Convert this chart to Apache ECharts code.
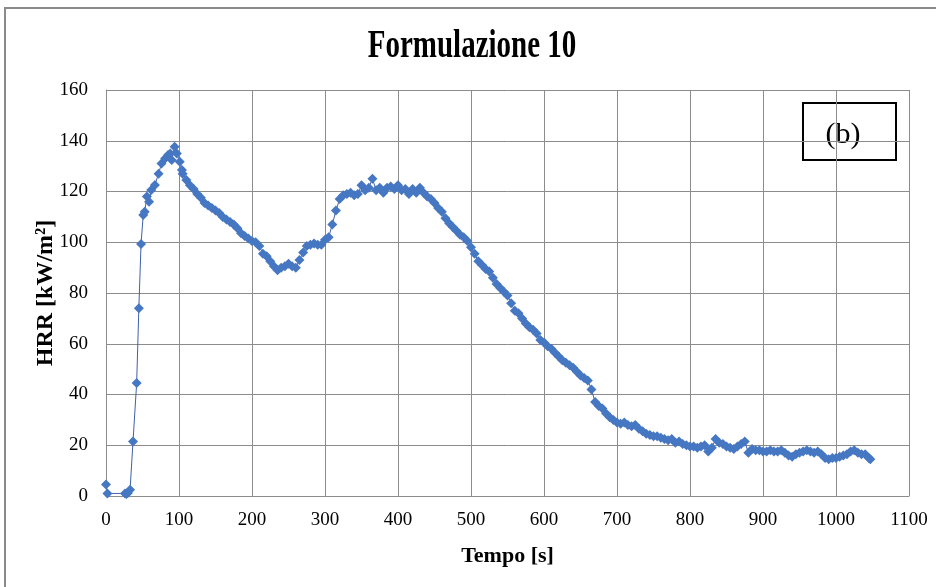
<!DOCTYPE html>
<html><head><meta charset="utf-8">
<script src="https://cdn.jsdelivr.net/npm/echarts@6/dist/echarts.min.js"></script>
<style>html,body{margin:0;padding:0;background:#fff}#c{width:936px;height:587px}</style>
</head><body><div id="c"></div>
<script>
var titleText = "Formulazione 10";
var xName = "Tempo [s]";
var yName = "HRR [kW/m²]";
var panelLabel = "(b)";
var xTicks = [0,100,200,300,400,500,600,700,800,900,1000,1100];
var yTicks = [0,20,40,60,80,100,120,140,160];
var time = [0,2,26,28,30,33,37,42,45,48,51,53,56,59,62,67,72,76,81,85,88,90,94,97,101,104,
105,110,115,120,125,130,135,140,145,150,155,160,165,170,175,180,185,190,195,200,
205,210,215,220,225,230,235,240,245,250,255,260,265,270,275,280,285,290,295,300,
305,310,315,320,325,330,335,340,345,350,355,360,365,370,375,380,385,390,395,400,
405,410,415,420,425,430,435,440,445,450,455,460,465,470,475,480,485,490,495,500,
505,510,515,520,525,530,535,540,545,550,555,560,565,570,575,580,585,590,595,600,
605,610,615,620,625,630,635,640,645,650,655,660,665,670,675,680,685,690,695,700,
705,710,715,720,725,730,735,740,745,750,755,760,765,770,775,780,785,790,795,800,
805,810,815,820,825,830,835,840,845,850,855,860,865,870,875,880,885,890,895,900,
905,910,915,920,925,930,935,940,945,950,955,960,965,970,975,980,985,990,995,1000,
1005,1010,1015,1020,1025,1030,1035,1040,1045,1047];
var hrr = [4.5,1,1,0.8,1.2,2.5,21.5,44.5,74,99.3,110.7,112,118,116,120.6,122.6,127,131,133,134.4,135,132.4,137.6,135,131.7,128.5,
127,124.5,122.5,121,119,117.5,115.5,114.5,113.5,112.5,111.5,110,109,108,107,105.5,103.5,102.5,101.5,100.5,
100,98.5,95.5,94.5,92.5,90.5,89,90,90.5,91.5,90.5,90,93,96,98.5,99,99.5,99,99,101,
102,107,112.5,117,118.5,119,119.5,118.5,119,122.5,120.5,121.5,125,120.5,121.5,119.5,121.5,122,121,122.5,
120.5,121,119,121,119.5,121.5,119.5,118,117,115.5,113.5,112,109.5,107.5,106,104.5,103,102,100.5,98,
95.5,92.5,91,89.5,88.5,86,83.5,82,80.5,79,76,73,72,70,68,66.5,65.5,64,61.5,60.5,
59,58,56.5,55,53.5,52.5,51.5,50.5,49,47.5,46.5,45.5,42,37,35.5,34.5,32.5,31,30,29,
28.5,29,28,27.5,28,26.5,25.5,24.5,24,23.5,23.5,23,22.5,22,22.5,21,21.5,20.5,20,19.5,
19.5,19,19.5,20,17.5,19,22.5,21,20.5,19.5,19,18.5,19.5,20.5,21.5,17,18.5,18,18,17.5,
17.5,18,17.5,17.5,18,17,16,15.5,16.5,17,17.5,18,17.5,17,17.5,16.5,15,14.5,15,15,
15.5,16,16.5,17.5,18,17,16.5,16.5,15,14.5];

var data = time.map(function(t,i){return [t,hrr[i]];});
var chart = echarts.init(document.getElementById('c'));
var serif = '"Liberation Serif","Times New Roman",serif';
chart.setOption({
  animation:false,
  backgroundColor:'#fff',
  grid:{left:106,right:27,top:90,bottom:91,show:false},
  xAxis:{type:'value',min:xTicks[0],max:xTicks[xTicks.length-1],interval:100,
    name:xName,nameLocation:'middle',nameGap:49,nameMoveOverlap:false,
    nameTextStyle:{fontFamily:serif,fontWeight:'bold',fontSize:22,color:'#000'},
    axisLine:{show:true,lineStyle:{color:'#8c8c8c',width:1}},
    axisTick:{show:false},
    axisLabel:{fontFamily:serif,fontSize:19,color:'#000',margin:15,
      formatter:function(v){return String(v);}},
    splitLine:{show:true,lineStyle:{color:'#8c8c8c',width:1}}},
  yAxis:{type:'value',min:yTicks[0],max:yTicks[yTicks.length-1],interval:20,
    name:yName,nameLocation:'middle',nameGap:48,nameMoveOverlap:false,
    nameTextStyle:{fontFamily:serif,fontWeight:'bold',fontSize:24,color:'#000'},
    axisLine:{show:true,lineStyle:{color:'#8c8c8c',width:1}},
    axisTick:{show:false},
    axisLabel:{fontFamily:serif,fontSize:19,color:'#000',margin:18},
    splitLine:{show:true,lineStyle:{color:'#8c8c8c',width:1}}},
  graphic:[
    {type:'polyline',shape:{points:[[5,600],[5,8],[940,8]]},style:{stroke:'#8a8a8a',lineWidth:2,fill:null},z:100},
    {type:'text',x:472,y:47,scaleY:1.35,z:100,
      style:{text:titleText,align:'center',verticalAlign:'middle',
        font:'bold 29px "Liberation Serif", serif',fill:'#000'}},
    {type:'group',left:802,top:102,z:100,children:[
      {type:'rect',shape:{x:0,y:0,width:93,height:57},style:{fill:'#fff',stroke:'#000',lineWidth:2}},
      {type:'text',style:{text:panelLabel,x:40,y:32,align:'center',verticalAlign:'middle',
        font:'30px "Liberation Serif", serif',fill:'#000'}}
    ]}
  ],
  series:[{type:'line',data:data,symbol:'diamond',symbolSize:10,
    lineStyle:{color:'#4060aa',width:1},
    itemStyle:{color:'#4677c2'}}]
});
</script></body></html>
